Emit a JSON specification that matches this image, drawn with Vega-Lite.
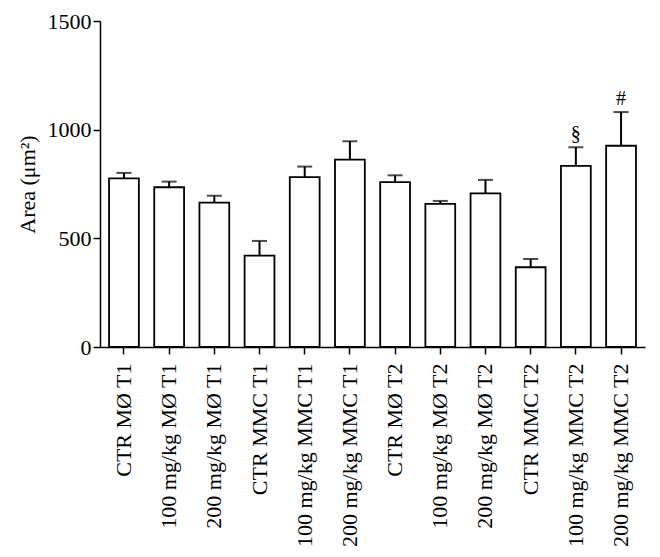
{
  "$schema": "https://vega.github.io/schema/vega-lite/v6.json",
  "autosize": {"type": "none"},
  "padding": {"left": 100, "top": 21, "right": 15, "bottom": 210},
  "width": 545,
  "height": 326,
  "background": "white",
  "config": {
    "view": {"stroke": null},
    "font": "Liberation Serif",
    "axis": {
      "labelFont": "Liberation Serif",
      "titleFont": "Liberation Serif",
      "labelColor": "black",
      "titleColor": "black",
      "domainColor": "black",
      "tickColor": "black",
      "domainWidth": 1.5,
      "tickWidth": 1.5,
      "grid": false
    }
  },
  "data": {
    "values": [
      {"group": "CTR MØ T1", "mean": 776, "upper": 801, "mark": ""},
      {"group": "100 mg/kg MØ T1", "mean": 735, "upper": 761, "mark": ""},
      {"group": "200 mg/kg MØ T1", "mean": 664, "upper": 696, "mark": ""},
      {"group": "CTR MMC T1", "mean": 420, "upper": 488, "mark": ""},
      {"group": "100 mg/kg MMC T1", "mean": 782, "upper": 830, "mark": ""},
      {"group": "200 mg/kg MMC T1", "mean": 862, "upper": 947, "mark": ""},
      {"group": "CTR MØ T2", "mean": 759, "upper": 790, "mark": ""},
      {"group": "100 mg/kg MØ T2", "mean": 659, "upper": 672, "mark": ""},
      {"group": "200 mg/kg MØ T2", "mean": 707, "upper": 769, "mark": ""},
      {"group": "CTR MMC T2", "mean": 367, "upper": 405, "mark": ""},
      {"group": "100 mg/kg MMC T2", "mean": 833, "upper": 919, "mark": "§"},
      {"group": "200 mg/kg MMC T2", "mean": 926, "upper": 1081, "mark": "#"}
    ]
  },
  "encoding": {
    "x": {
      "field": "group",
      "type": "nominal",
      "sort": null,
      "scale": {"paddingInner": 0.34, "paddingOuter": 0.2},
      "axis": {
        "title": null,
        "labelAngle": -90,
        "labelFont": "Liberation Serif",
        "labelFontSize": 22,
        "labelColor": "black",
        "labelPadding": 9,
        "tickSize": 7,
        "labelLimit": 300
      }
    },
    "y": {
      "field": "mean",
      "type": "quantitative",
      "scale": {"domain": [0, 1500], "nice": false},
      "axis": {
        "title": "Area (μm²)",
        "titleFont": "Liberation Serif",
        "titleColor": "black",
        "titleFontSize": 22,
        "titleFontWeight": "normal",
        "titlePadding": 8,
        "values": [0, 500, 1000, 1500],
        "format": "d",
        "labelFont": "Liberation Serif",
        "labelColor": "black",
        "labelFontSize": 22,
        "tickSize": 7,
        "labelPadding": 2
      }
    }
  },
  "layer": [
    {
      "mark": {"type": "bar", "fill": "white", "stroke": "black", "strokeWidth": 1.8}
    },
    {
      "mark": {"type": "rule", "stroke": "black", "strokeWidth": 2},
      "encoding": {
        "y2": {"field": "upper"}
      }
    },
    {
      "mark": {"type": "tick", "orient": "horizontal", "color": "black", "thickness": 2, "size": 15},
      "encoding": {
        "y": {"field": "upper", "type": "quantitative"}
      }
    },
    {
      "mark": {"type": "text", "baseline": "bottom", "dy": -3, "fontSize": 20, "color": "black", "font": "Liberation Serif"},
      "encoding": {
        "y": {"field": "upper", "type": "quantitative"},
        "text": {"field": "mark"}
      }
    }
  ]
}
